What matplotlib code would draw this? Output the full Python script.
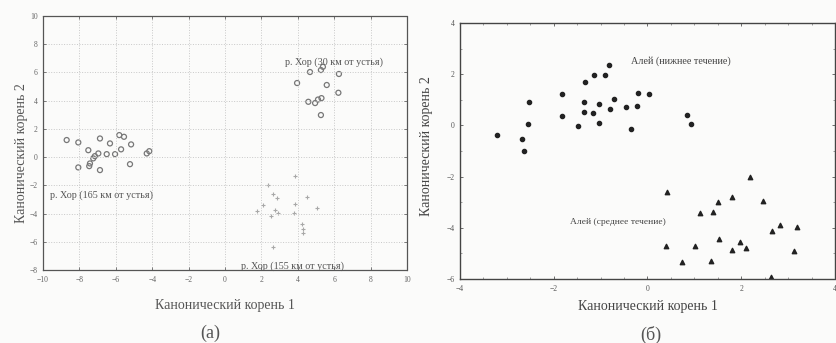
import matplotlib
matplotlib.use("Agg")
import matplotlib.pyplot as plt
import numpy as np

plt.rcParams['font.family'] = ['Liberation Serif', 'DejaVu Serif']

# ---- Panel (a) data ----
khor165_x = [-8.70, -8.06, -6.87, -6.32, -5.81, -5.55, -5.16, -7.51, -6.96, -6.50, -6.04,
             -5.71, -4.30, -4.16, -7.24, -7.42, -8.06, -7.46, -6.87, -5.22, -7.15]
khor165_y = [1.21, 1.04, 1.32, 0.97, 1.56, 1.44, 0.90, 0.49, 0.26, 0.21, 0.21,
             0.55, 0.26, 0.42, -0.09, -0.45, -0.73, -0.64, -0.92, -0.50, 0.07]
khor30_x = [4.67, 5.27, 5.38, 6.26, 3.96, 5.59, 6.23, 4.58, 4.95, 5.11, 5.30, 5.27]
khor30_y = [6.03, 6.17, 6.40, 5.89, 5.25, 5.11, 4.56, 3.92, 3.83, 4.08, 4.18, 2.98]
khor155_x = [3.85, 2.36, 2.64, 2.86, 3.85, 4.48, 5.05, 2.09, 1.76, 2.53, 2.91, 2.75,
             3.79, 4.21, 4.30, 4.30, 2.64]
khor155_y = [-1.35, -1.99, -2.62, -2.91, -3.33, -2.84, -3.62, -3.40, -3.83, -4.18, -3.97,
             -3.76, -3.97, -4.75, -5.11, -5.39, -6.35]
labels_a = ["р. Хор (165 км от устья)", "р. Хор (30 км от устья)", "р. Хор (155 км от устья)"]

# ---- Panel (б) data ----
aley_low_x = [-3.20, -2.68, -2.63, -2.54, -2.52, -1.83, -1.83, -1.49, -1.33, -1.35, -1.35,
              -1.15, -1.16, -1.04, -1.03, -0.91, -0.83, -0.79, -0.71, -0.46, -0.35,
              -0.22, -0.20, 0.03, 0.85, 0.92]
aley_low_y = [-0.39, -0.52, -1.00, 0.07, 0.91, 1.21, 0.36, -0.03, 1.69, 0.91, 0.52,
              1.98, 0.49, 0.84, 0.10, 1.98, 2.37, 0.66, 1.04, 0.73, -0.13,
              0.75, 1.25, 1.23, 0.39, 0.04]
aley_mid_x = [0.41, 2.19, 1.81, 1.51, 2.46, 1.13, 1.39, 2.66, 2.83, 3.19, 1.53, 1.97,
              0.39, 1.01, 1.80, 2.11, 3.12, 0.73, 1.35, 2.63]
aley_mid_y = [-2.59, -2.00, -2.78, -3.01, -2.95, -3.44, -3.40, -4.11, -3.89, -3.96, -4.44,
              -4.54, -4.70, -4.70, -4.86, -4.80, -4.89, -5.34, -5.29, -5.93]
labels_b = ["Алей (нижнее течение)", "Алей (среднее течение)"]

axis_x_label = "Канонический корень 1"
axis_y_label = "Канонический корень 2"
panel_tags = ["(а)", "(б)"]

W, H = 837, 343
fig = plt.figure(figsize=(W / 100, H / 100), dpi=100)
bg = '#fbfbfa'
fig.patch.set_facecolor(bg)

# ---- Panel (a) ----
ax1 = fig.add_axes([43 / W, 1 - 270 / H, (407 - 43) / W, (270 - 16) / H])
ax1.set_facecolor(bg)
ax1.set_xlim(-10, 10)
ax1.set_ylim(-8, 10)
ax1.set_xticks(np.arange(-10, 11, 2))
ax1.set_yticks(np.arange(-8, 11, 2))
ax1.grid(True, linestyle=':', color='#c8c8c8', linewidth=0.7)
for s in ax1.spines.values():
    s.set_linestyle((0, (1, 1)))
    s.set_color('#555555')
    s.set_linewidth(0.9)
ax1.tick_params(direction='in', length=2, width=0.6, labelsize=5.5, colors='#666666',
                top=True, right=True, pad=4)
ax1.scatter(khor165_x, khor165_y, s=13, facecolors='none', edgecolors='#777777', linewidths=0.9)
ax1.scatter(khor30_x, khor30_y, s=13, facecolors='none', edgecolors='#777777', linewidths=0.9)
ax1.scatter(khor155_x, khor155_y, s=12, marker='+', color='#a8a8a8', linewidths=0.8)
ax1.text(-9.6, -2.7, labels_a[0], fontsize=7.3, color='#555555', va='center', ha='left')
ax1.text(3.3, 6.74, labels_a[1], fontsize=7.3, color='#555555', va='center', ha='left')
ax1.text(0.9, -7.72, labels_a[2], fontsize=7.3, color='#555555', va='center', ha='left')
ax1.set_xlabel(axis_x_label, fontsize=10, color='#555555')
ax1.set_ylabel(axis_y_label, fontsize=10, color='#555555')
ax1.xaxis.set_label_coords(0.5, -0.138)
ax1.xaxis.label.set_va('center')
ax1.yaxis.set_label_coords(-0.058, 0.46)
ax1.yaxis.label.set_va('center')

# ---- Panel (б) ----
ax2 = fig.add_axes([460 / W, 1 - 279 / H, (835 - 460) / W, (279 - 23) / H])
ax2.set_facecolor(bg)
ax2.set_xlim(-4, 4)
ax2.set_ylim(-6, 4)
ax2.set_xticks(np.arange(-4, 5, 2))
ax2.set_yticks(np.arange(-6, 5, 2))
ax2.set_xticks(np.arange(-4, 4.1, 0.5), minor=True)
ax2.set_yticks(np.arange(-6, 4.1, 1), minor=True)
for name, s in ax2.spines.items():
    s.set_color('#444444')
    s.set_linewidth(1.0)
ax2.spines['bottom'].set_linestyle((0, (1, 1)))
ax2.tick_params(direction='in', length=2, width=0.6, labelsize=5.5, colors='#555555',
                top=True, right=True, pad=4)
ax2.tick_params(which='minor', direction='in', length=1.2, width=0.5, colors='#777777',
                top=True, right=True)
ax2.scatter(aley_low_x, aley_low_y, s=9, marker='o', color='#222222')
ax2.scatter(aley_mid_x, aley_mid_y, s=10, marker='^', color='#222222')
ax2.text(-0.36, 2.5, labels_b[0], fontsize=7.3, color='#444444', va='center', ha='left')
ax2.text(-1.65, -3.78, labels_b[1], fontsize=6.8, color='#444444', va='center', ha='left')
ax2.set_xlabel(axis_x_label, fontsize=10, color='#444444')
ax2.set_ylabel(axis_y_label, fontsize=10, color='#444444')
ax2.xaxis.set_label_coords(0.5, -0.109)
ax2.xaxis.label.set_va('center')
ax2.yaxis.set_label_coords(-0.088, 0.52)
ax2.yaxis.label.set_va('center')

fig.text(210 / W, 1 - 333 / H, panel_tags[0], fontsize=13, color='#555555', ha='center', va='center')
fig.text(651 / W, 1 - 335 / H, panel_tags[1], fontsize=13, color='#555555', ha='center', va='center')

fig.savefig("out.png", dpi=100, facecolor=fig.get_facecolor())
